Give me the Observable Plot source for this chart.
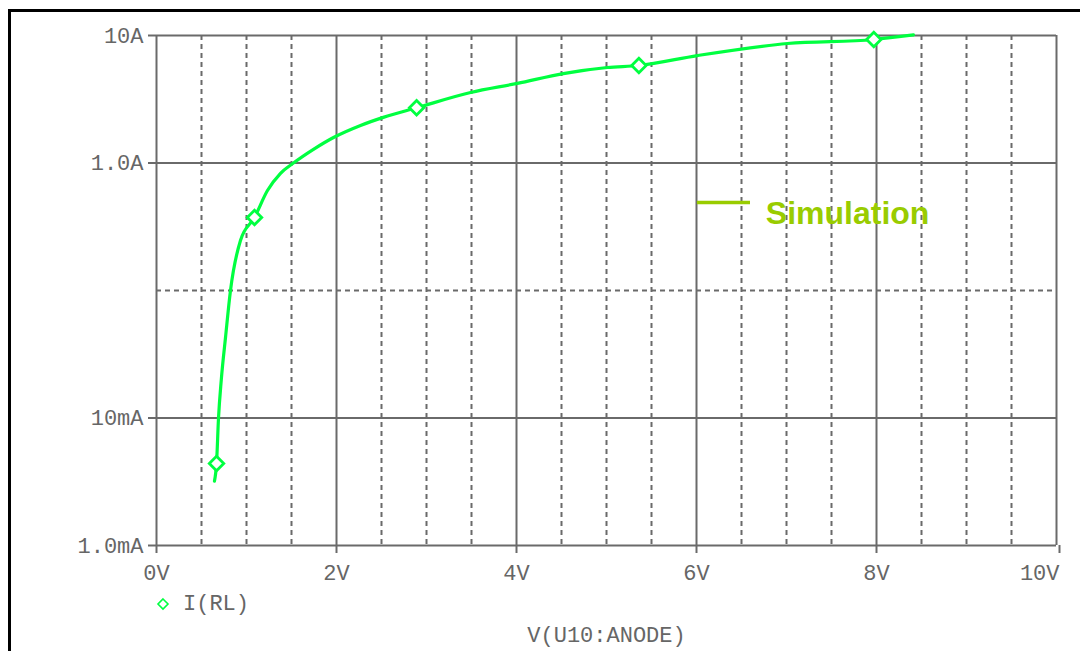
<!DOCTYPE html>
<html><head><meta charset="utf-8">
<script src="https://cdn.jsdelivr.net/npm/d3@7"></script>
<script src="https://cdn.jsdelivr.net/npm/@observablehq/plot@0.6"></script>
<style>
body{margin:0;background:#fff;}
#wrap{position:relative;width:1080px;height:651px;overflow:hidden;background:#fff;}
#frame{position:absolute;left:8px;top:9px;width:1200px;height:800px;border-left:3px solid #000;border-top:3px solid #000;pointer-events:none;}
#legend{position:absolute;left:156px;top:590px;height:28px;display:flex;align-items:center;font-family:"Liberation Mono",monospace;font-size:22px;color:#666;}
#legend svg{margin-right:13px;}
</style></head>
<body>
<div id="wrap"><div id="chart"></div><div id="frame"></div>
<div id="legend"><svg width="14" height="14" viewBox="-7 -7 14 14"><path d="M0,-5L5,0L0,5L-5,0Z" fill="none" stroke="#00ff40" stroke-width="1.6"/></svg><span>I(RL)</span></div>
</div>
<script>
// Curve I(RL) vs V(U10:ANODE)
const voltage = [0.644, 0.667, 0.689, 0.72, 0.767, 0.822, 0.933, 1.089, 1.233, 1.378, 1.522, 1.744, 1.967, 2.267, 2.52, 2.89, 3.49, 4.01, 4.52, 5.01, 5.36, 6.01, 7.01, 7.97, 8.41];
const current = [0.0032, 0.0044, 0.010, 0.020, 0.043, 0.10, 0.247, 0.374, 0.608, 0.83, 1.0, 1.28, 1.585, 1.97, 2.28, 2.71, 3.57, 4.21, 5.03, 5.61, 5.82, 6.96, 8.65, 9.3, 10.1];
// Markers on curve
const markerV = [0.667, 1.089, 2.89, 5.36, 7.97];
const markerI = [0.0044, 0.374, 2.71, 5.82, 9.3];
// Axis ticks
const xTicks = [0, 2, 4, 6, 8, 10];
const xLabels = ["0V", "2V", "4V", "6V", "8V", "10V"];
const xMinor = [0.5, 1, 1.5, 2.5, 3, 3.5, 4.5, 5, 5.5, 6.5, 7, 7.5, 8.5, 9, 9.5];
const yTicks = [0.001, 0.01, 1, 10];
const yLabels = ["1.0mA", "10mA", "1.0A", "10A"];
const yMinor = [0.1];
// Annotation
const simLabel = ["Simulation"];
const simLineV = [6.01, 6.6];
const simLineI = [0.49];
const simTextV = [6.77];
const simTextI = [0.40];

const curve = voltage.map((v, i) => ({v, i: current[i]}));
const markers = markerV.map((v, i) => ({v, i: markerI[i]}));
const grid = "#6a6a6a";
const green = "#00ff40";
const olive = "#99cc00";
const fmtX = d => xLabels[xTicks.indexOf(d)];

const chart = Plot.plot({
  width: 1080, height: 651,
  marginLeft: 156, marginRight: 24, marginTop: 35, marginBottom: 106,
  style: {fontFamily: "'Liberation Mono', monospace", fontSize: "22px", color: "#666", background: "transparent"},
  x: {domain: [0, 10]},
  y: {type: "log", domain: [0.001, 10]},
  marks: [
    Plot.ruleX(xMinor, {stroke: grid, strokeWidth: 2, strokeDasharray: "5,4"}),
    Plot.ruleY(yMinor, {stroke: grid, strokeWidth: 2, strokeDasharray: "5,4"}),
    Plot.ruleX(xTicks, {stroke: grid, strokeWidth: 2}),
    Plot.ruleY(yTicks, {stroke: grid, strokeWidth: 2}),
    Plot.axisX({ticks: xTicks.slice(0, -1), tickFormat: fmtX, tickSize: 8, tickPadding: 11, stroke: grid, strokeWidth: 2,
      label: "V(U10:ANODE)", labelAnchor: "center", labelArrow: "none", labelOffset: 96}),
    Plot.axisX({ticks: xTicks.slice(-1), tickFormat: fmtX, tickSize: 8, tickPadding: 11, stroke: grid, strokeWidth: 2,
      textAnchor: "end", dx: 3, label: null}),
    Plot.axisY({ticks: yTicks, tickFormat: d => yLabels[yTicks.indexOf(d)], tickSize: 8, tickPadding: 5, stroke: grid, strokeWidth: 2, label: null}),
    Plot.line(curve, {x: "v", y: "i", stroke: green, strokeWidth: 3.2, curve: "monotone-x"}),
    Plot.dot(markers, {x: "v", y: "i", symbol: "diamond2", r: 6.5, fill: "white", stroke: green, strokeWidth: 2.8}),
    Plot.ruleY(simLineI, {x1: simLineV[0], x2: simLineV[1], y: d => d, stroke: olive, strokeWidth: 3.5}),
    Plot.text(simLabel, {x: simTextV, y: simTextI, text: d => d, textAnchor: "start", fill: olive, fontSize: 32, fontWeight: "bold", fontFamily: "'Liberation Sans', Arial, sans-serif"})
  ]
});
document.getElementById("chart").append(chart);
</script>
</body></html>
